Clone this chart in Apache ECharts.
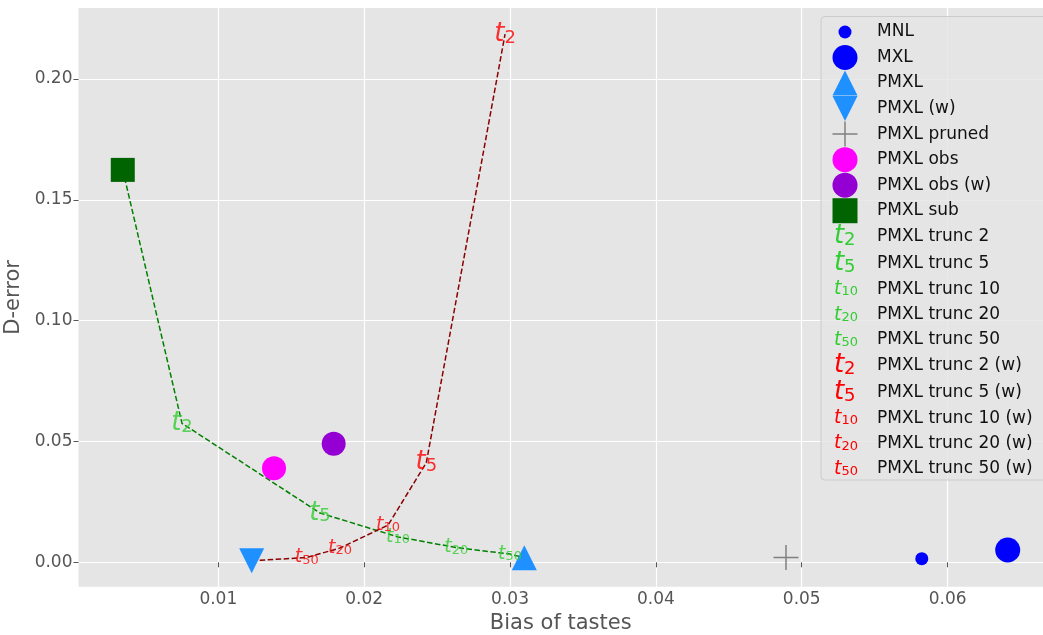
<!DOCTYPE html>
<html><head><meta charset="utf-8">
<script src="https://cdn.jsdelivr.net/npm/echarts@6/dist/echarts.min.js"></script>
<style>html,body{margin:0;padding:0;background:#fff}#c{width:1043px;height:635px}</style>
</head><body><div id="c"></div><script>
// ---- data ----
const markerNames  = ['MNL', 'MXL', 'PMXL', 'PMXL (w)', 'PMXL pruned', 'PMXL obs', 'PMXL obs (w)', 'PMXL sub'];
const markerBias   = [0.05823, 0.06412, 0.03098, 0.01229, 0.04892, 0.01382, 0.01791, 0.00345];
const markerDError = [0.0015, 0.0051, 0.0019, 0.0006, 0.0020, 0.0389, 0.0491, 0.1624];

const truncLevels  = ['2', '5', '10', '20', '50'];
const greenBias    = [0.00751, 0.01697, 0.02232, 0.02632, 0.03000];
const greenDError  = [0.0575, 0.0204, 0.0105, 0.0061, 0.0034];
const redBias      = [0.02966, 0.02426, 0.02164, 0.01834, 0.01606];
const redDError    = [0.2186, 0.0412, 0.0154, 0.0059, 0.0020];

const xTicks = [0.01, 0.02, 0.03, 0.04, 0.05, 0.06];
const yTicks = [0.00, 0.05, 0.10, 0.15, 0.20];

// ---- styles ----
const FONT = 'DejaVu Sans';
const smallCircle = 'path://M0 0M100 100M24 50A26 26 0 1 1 76 50A26 26 0 1 1 24 50Z';
const downTri = 'path://M0 0L100 0L50 100Z';
const plus = 'path://M47 0H53V47H100V53H53V100H47V53H0V47H47Z';
const markerStyle = {
  'MNL':          {color: '#0000ff', symbol: 'circle',   size: 13, icon: smallCircle},
  'MXL':          {color: '#0000ff', symbol: 'circle',   size: 25, icon: 'circle'},
  'PMXL':         {color: '#1e90ff', symbol: 'triangle', size: 25, icon: 'triangle'},
  'PMXL (w)':     {color: '#1e90ff', symbol: downTri,    size: 25, icon: downTri},
  'PMXL pruned':  {color: '#808080', symbol: plus,       size: 25, icon: plus},
  'PMXL obs':     {color: '#ff00ff', symbol: 'circle',   size: 24, icon: 'circle'},
  'PMXL obs (w)': {color: '#9400d3', symbol: 'circle',   size: 24, icon: 'circle'},
  'PMXL sub':     {color: '#006400', symbol: 'rect',     size: 24, icon: 'rect'}
};
const GREEN_TXT = '#32cd32', RED_TXT = '#ff0000';

// every token is 22.5px tall so rows stay even; subscripts shifted down by padding
function richSet(prefix, color) {
  return {
    [prefix + 'T']: {fontSize: 26, fontStyle: 'italic', fontFamily: FONT, color, lineHeight: 22.5},
    [prefix + 'S']: {fontSize: 18, fontFamily: FONT, color, lineHeight: 15, padding: [7.5, 0, 0, 0]},
    [prefix + 't']: {fontSize: 19, fontStyle: 'italic', fontFamily: FONT, color, lineHeight: 22.5},
    [prefix + 's']: {fontSize: 13, fontFamily: FONT, color, lineHeight: 11, padding: [8.5, 0, 3, 0]}
  };
}
const richAll = Object.assign({}, richSet('g', GREEN_TXT), richSet('r', RED_TXT));
function glyph(prefix, lvl) {
  const big = (lvl === '2' || lvl === '5');
  return big ? `{${prefix}T|t}{${prefix}S|${lvl}}` : `{${prefix}t|t}{${prefix}s|${lvl}}`;
}

// ---- series ----
const series = [];
const idx = n => markerNames.indexOf(n);
const greenPath = [[markerBias[idx('PMXL sub')], markerDError[idx('PMXL sub')]]]
  .concat(greenBias.map((x, i) => [x, greenDError[i]]))
  .concat([[markerBias[idx('PMXL')], markerDError[idx('PMXL')]]]);
const redPath = [[markerBias[idx('PMXL (w)')], markerDError[idx('PMXL (w)')]]]
  .concat(redBias.map((x, i) => [x, redDError[i]]).reverse());

series.push({type: 'line', name: '_green', data: greenPath, symbol: 'none', z: 1, silent: true,
  lineStyle: {color: '#008000', width: 1.5, type: [5.5, 2.5]}});
series.push({type: 'line', name: '_red', data: redPath, symbol: 'none', z: 1, silent: true,
  lineStyle: {color: '#8b0000', width: 1.5, type: [5.5, 2.5]}});

markerNames.forEach((n, i) => {
  const s = markerStyle[n];
  series.push({type: 'scatter', name: n, data: [[markerBias[i], markerDError[i]]],
    symbol: s.symbol, symbolSize: s.size, itemStyle: {color: s.color, opacity: 1}, z: 3,
    emphasis: {disabled: true}});
});

function truncSeries(prefix, bias, derr, suffix) {
  truncLevels.forEach((lvl, i) => {
    series.push({type: 'scatter', name: 'PMXL trunc ' + lvl + suffix, data: [[bias[i], derr[i]]],
      symbol: 'circle', symbolSize: 1, itemStyle: {color: 'rgba(0,0,0,0)'}, z: 4,
      emphasis: {disabled: true},
      label: {show: true, position: 'inside', formatter: glyph(prefix, lvl), rich: richAll}});
  });
}
truncSeries('g', greenBias, greenDError, '');
truncSeries('r', redBias, redDError, ' (w)');

// ---- legends ----
const ROW = 25.53, TOP0 = 19.5;
const legendRich = Object.assign({}, richAll, {
  lab: {fontSize: 17, fontFamily: FONT, color: '#111', lineHeight: 22.5}
});
['g', 'r'].forEach(p => {
  legendRich[p + 'T'] = Object.assign({}, legendRich[p + 'T'], {width: 10});
  legendRich[p + 'S'] = Object.assign({}, legendRich[p + 'S'], {width: 33});
  legendRich[p + 't'] = Object.assign({}, legendRich[p + 't'], {width: 7.5});
  legendRich[p + 's'] = Object.assign({}, legendRich[p + 's'], {width: 35.5});
});
const truncNames = truncLevels.map(l => 'PMXL trunc ' + l).concat(truncLevels.map(l => 'PMXL trunc ' + l + ' (w)'));

const option = {
  animation: false,
  backgroundColor: '#ffffff',
  textStyle: {fontFamily: FONT},
  grid: {left: 78.5, right: 0, top: 8, bottom: 48.3, show: true, backgroundColor: '#e5e5e5', borderWidth: 0,
    containLabel: false, outerBoundsMode: 'none'},
  xAxis: {
    type: 'value', min: 0.000415, max: 0.06654,
    name: 'Bias of tastes', nameLocation: 'middle', nameGap: 24,
    nameTextStyle: {fontSize: 21, color: '#555', fontFamily: FONT},
    axisLine: {show: false},
    axisTick: {show: true, length: 5, lineStyle: {color: '#555'}, customValues: xTicks},
    axisLabel: {fontSize: 17, color: '#555', fontFamily: FONT, margin: 4, customValues: xTicks,
      formatter: v => v.toFixed(2)},
    splitLine: {show: true, lineStyle: {color: '#ffffff', width: 1.2}}
  },
  yAxis: {
    type: 'value', min: -0.0101, max: 0.2294,
    name: 'D-error', nameLocation: 'middle', nameGap: 41,
    nameTextStyle: {fontSize: 21, color: '#555', fontFamily: FONT},
    axisLine: {show: false},
    axisTick: {show: true, length: 5, lineStyle: {color: '#555'}, customValues: yTicks},
    axisLabel: {fontSize: 17, color: '#555', fontFamily: FONT, margin: 6, customValues: yTicks,
      formatter: v => v.toFixed(2)},
    splitLine: {show: true, lineStyle: {color: '#ffffff', width: 1.2}}
  },
  graphic: [{type: 'rect', z: 5, silent: true,
    shape: {x: 821, y: 16.5, width: 240, height: 463.5, r: 4},
    style: {fill: 'rgba(229,229,229,0.8)', stroke: '#cccccc', lineWidth: 1}}],
  legend: [
    {
      z: 10, orient: 'vertical', left: 832.5, top: TOP0, itemWidth: 25, itemHeight: 25, itemGap: ROW - 25,
      padding: 0, selectedMode: false,
      data: markerNames.map(n => ({name: n, icon: markerStyle[n].icon})),
      formatter: n => `{lab|${n}}`,
      textStyle: {fontSize: 17, fontFamily: FONT, color: '#111',
        rich: {lab: {fontSize: 17, fontFamily: FONT, color: '#111', padding: [0, 0, 0, 14.5]}}}
    },
    {
      z: 10, orient: 'vertical', left: 804, top: TOP0 + 8 * ROW, itemWidth: 25, itemHeight: 25, itemGap: ROW - 25,
      padding: 0, selectedMode: false,
      data: truncNames.map(n => ({name: n, icon: 'none'})),
      formatter: n => {
        const m = n.match(/trunc (\d+)( \(w\))?/);
        const p = m[2] ? 'r' : 'g';
        return glyph(p, m[1]) + `{lab|${n}}`;
      },
      textStyle: {fontSize: 17, lineHeight: 22.5, fontFamily: FONT, color: '#111', rich: legendRich}
    }
  ],
  series
};
const chart = echarts.init(document.getElementById('c'), null, {renderer: 'canvas'});
chart.setOption(option);
</script></body></html>
